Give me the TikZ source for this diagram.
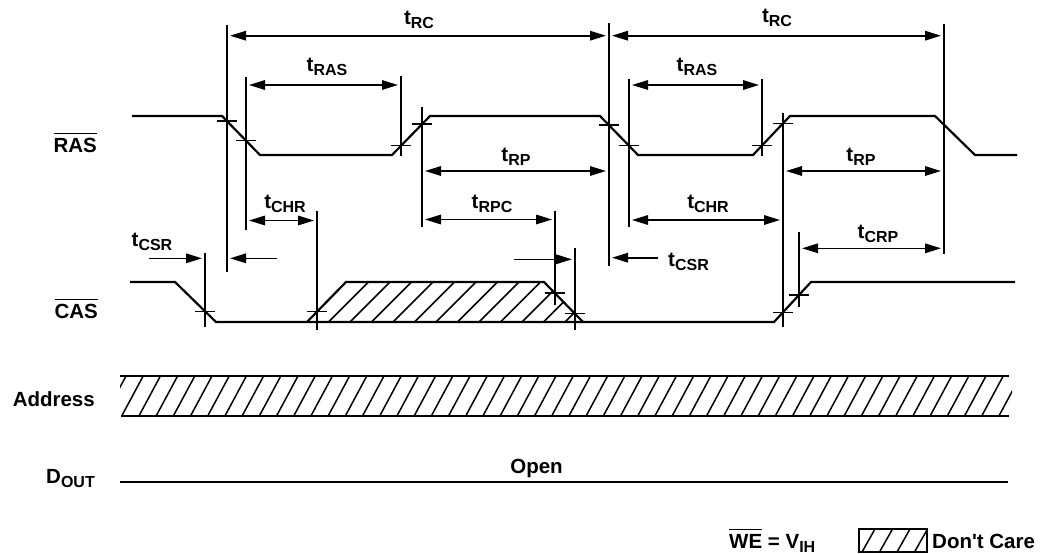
\documentclass[tikz,border=0pt]{standalone}
\usepackage{fontspec}
\setmainfont{Liberation Sans}
\usetikzlibrary{arrows.meta}
\newcommand{\sbs}[1]{\raisebox{-4pt}{\fontsize{16}{16}\selectfont #1}}
\newcommand{\tlab}[1]{t\sbs{#1}}
\newcommand{\ovl}[1]{\vbox{\hrule height 1.3pt\kern 3.5pt\hbox{#1}}}
\begin{document}
\begin{tikzpicture}[x=1pt,y=-1pt,
  font=\fontsize{20.5}{24}\selectfont\bfseries,
  wave/.style={line width=2.2pt},
  refl/.style={line width=1.2pt},
  tk/.style={line width=1.2pt},
  hatch/.style={line width=1.5pt},
  tip/.tip={Triangle[length=16pt,width=9.5pt]},
  dim/.style={line width=1.6pt,{tip}-{tip},shorten <=3pt,shorten >=3pt},
  dimr/.style={line width=1.6pt,-{tip},shorten >=3pt},
  lbl/.style={inner sep=0pt,anchor=base}]
\useasboundingbox (0,0) rectangle (1055,554);

% signal names
\node[lbl,anchor=base east] (ras)  at (97,152) {\ovl{RAS}};
\node[lbl,anchor=base east] (cas)  at (98,318) {\ovl{CAS}};
\node[lbl,anchor=base east] (addr) at (95,406) {Address};
\node[lbl,anchor=base east] (dout) at (95,483) {D\sbs{OUT}};

% RAS waveform
\draw[wave] (132,116) -- (222,116) -- (260,155) -- (392,155) -- (430,116)
  -- (600,116) -- (638,155) -- (753,155) -- (790,116) -- (935,116)
  -- (975,155) -- (1017,155);

% CAS waveform
\draw[wave] (130,282) -- (175,282) -- (216,322) -- (774,322) -- (811,282) -- (1015,282);
\begin{scope}
  \clip (307,322) -- (346,282) -- (544,282) -- (583,322) -- cycle;
  \foreach \k in {1,...,13} \draw[hatch] ({307+21.5*\k},322) -- ++(40,-40);
\end{scope}
\draw[wave] (307,322) -- (346,282) -- (544,282) -- (583,322);

% Address bus
\begin{scope}
  \clip (120,376) rectangle (1012,416);
  \foreach \k in {-2,...,53} \draw[hatch] ({121.7+17.2*\k},416) -- ++(21.5,-40);
\end{scope}
\draw[wave] (120,376) -- (1009,376);
\draw[wave] (121,416) -- (1009,416);

% Dout
\draw[wave] (120,482) -- (1008,482);
\node[lbl] (open) at (536.5,473) {Open};

% reference lines
\foreach \x/\a/\b in {227/25/272, 246/77/230, 401/76/156, 422/107/227,
  609/23/266, 629/79/227, 762/79/156, 783/113/327, 944/24/254,
  205/253/327, 317/211/330, 555/211/305, 575/248/330, 799/232/307}
  \draw[refl] (\x,\a) -- (\x,\b);

% crossing ticks
\foreach \x/\y in {227/121, 246/140.6, 401/145.8, 422/124, 609/125,
  629/145.8, 762/145.5, 783/123.4, 205/311.3, 317/311.7, 555/293,
  575/313.8, 783/312.3, 799/295}
  \draw[tk] ({\x-10},\y) -- ({\x+10},\y);

% timing arrows
\draw[dim] (227,35.7) -- (609,35.7);
\draw[dim] (609,35.7) -- (944,35.7);
\draw[dim] (246,85) -- (401,85);
\draw[dim] (629,85) -- (762,85);
\draw[dim] (422,171) -- (609,171);
\draw[dim] (783,171) -- (944,171);
\draw[dim] (246,220.5) -- (317,220.5);
\draw[dim] (422,219.5) -- (555,219.5);
\draw[dim] (629,220) -- (783,220);
\draw[dim] (799,248.3) -- (944,248.3);
\draw[dimr] (149,258.3) -- (205,258.3);
\draw[dimr] (277,258.3) -- (227,258.3);
\draw[dimr] (514,259.3) -- (575,259.3);
\draw[dimr] (658,257.7) -- (609,257.7);

% timing labels
\node[lbl] (trc1)  at (419,24)  {\tlab{RC}};
\node[lbl] (trc2)  at (777,23)  {\tlab{RC}};
\node[lbl] (tras1) at (327,71)  {\tlab{RAS}};
\node[lbl] (tras2) at (697,71)  {\tlab{RAS}};
\node[lbl] (trp1)  at (516,161) {\tlab{RP}};
\node[lbl] (trp2)  at (861,161) {\tlab{RP}};
\node[lbl] (tchr1) at (285,208) {\tlab{CHR}};
\node[lbl] (trpc)  at (492,208) {\tlab{RPC}};
\node[lbl] (tchr2) at (708,208) {\tlab{CHR}};
\node[lbl] (tcrp)  at (878,238) {\tlab{CRP}};
\node[lbl] (tcsr1) at (152,246) {\tlab{CSR}};
\node[lbl,anchor=base west] (tcsr2) at (668,266) {\tlab{CSR}};

% legend
\node[lbl,anchor=base west] (we) at (729,548) {\ovl{WE} = V\sbs{IH}};
\begin{scope}
  \clip (859,529) rectangle (927,552);
  \foreach \k in {-1,...,4} \draw[hatch] ({862+17.5*\k},552) -- ++(13,-23);
\end{scope}
\draw[line width=1.6pt] (859,529) rectangle (927,552);
\node[lbl,anchor=base west] (dc) at (932,548) {Don\textquotesingle t Care};
\end{tikzpicture}
\end{document}
